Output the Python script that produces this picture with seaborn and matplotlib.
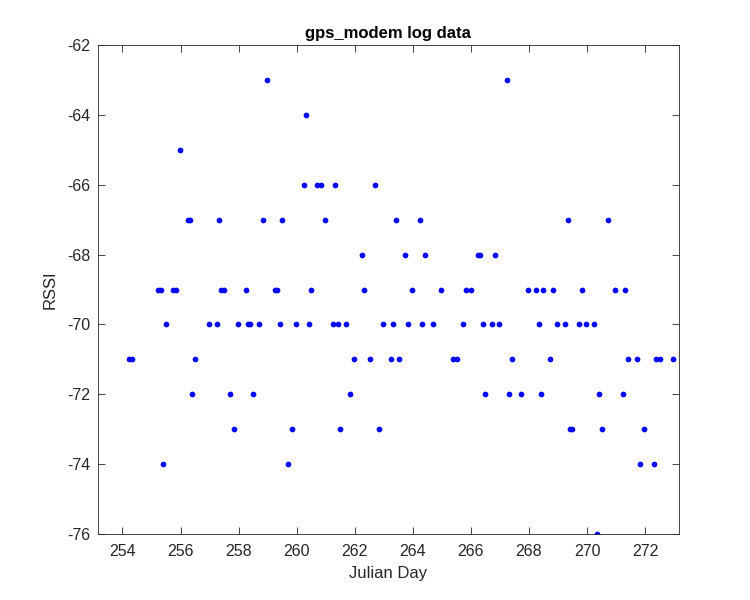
import pandas as pd
import matplotlib
matplotlib.use("Agg")
import matplotlib.pyplot as plt
import seaborn as sns

# values, grouped by RSSI level
days_63 = [258.98, 267.24]
days_64 = [260.33]
days_65 = [255.99]
days_66 = [260.25, 260.70, 260.84, 261.33, 262.71]
days_67 = [256.24, 256.33, 257.33, 258.84, 259.51, 260.98, 263.43, 264.24, 269.33, 270.71]
days_68 = [262.24, 263.72, 264.43, 266.24, 266.33, 266.84]
days_69 = [255.24, 255.33, 255.73, 255.84, 257.40, 257.50, 258.25, 259.24, 259.32,
           260.50, 262.33, 263.98, 264.98, 265.84, 265.99, 267.98, 268.24, 268.50,
           268.84, 269.84, 270.98, 271.32]
days_70 = [255.50, 256.98, 257.25, 257.98, 258.31, 258.40, 258.71, 259.41, 259.96,
           260.41, 261.24, 261.41, 261.71, 262.98, 263.33, 263.84, 264.32, 264.71,
           265.72, 266.41, 266.72, 266.98, 268.33, 268.98, 269.24, 269.71, 269.98, 270.24]
days_71 = [254.22, 254.34, 256.50, 261.98, 262.51, 263.25, 263.51, 265.40, 265.51,
           267.41, 268.71, 271.41, 271.71, 272.39, 272.51, 272.97]
days_72 = [256.41, 257.71, 258.50, 261.84, 266.50, 267.33, 267.71, 268.41, 270.41, 271.24]
days_73 = [257.84, 259.84, 261.50, 262.84, 269.40, 269.50, 270.51, 271.98]
days_74 = [255.41, 259.71, 271.84, 272.32]
days_76 = [270.33]

groups = {-63: days_63, -64: days_64, -65: days_65, -66: days_66, -67: days_67,
          -68: days_68, -69: days_69, -70: days_70, -71: days_71, -72: days_72,
          -73: days_73, -74: days_74, -76: days_76}

rows = []
for rssi, days in groups.items():
    for d in days:
        rows.append((d, rssi))
df = pd.DataFrame(rows, columns=["day", "rssi"]).sort_values("day")

sns.set_style("white")
plt.rcParams["font.family"] = ["Liberation Sans", "DejaVu Sans"]
plt.rcParams["axes.unicode_minus"] = False

fig = plt.figure(figsize=(7.5, 6), dpi=100)
ax = fig.add_axes([0.13, 0.11, 0.775, 0.815])
sns.scatterplot(data=df, x="day", y="rssi", color="#0000ff", s=17, linewidth=0, ax=ax)

ax.set_xlim(253.14, 273.16)
ax.set_ylim(-76, -62)
ax.set_xticks(range(254, 273, 2))
ax.set_yticks(range(-76, -61, 2))
ax.set_xlabel("Julian Day", fontsize=12, color="#262626", labelpad=5)
ax.set_ylabel("RSSI", fontsize=12, color="#262626", labelpad=7)
ax.set_title("gps_modem log data", fontsize=12, fontweight="bold", color="black", pad=5)
ax.tick_params(direction="in", length=5, width=0.6, colors="#262626", labelsize=11.5,
               top=True, right=True, bottom=True, left=True)
ax.tick_params(axis="x", pad=7)
ax.tick_params(axis="y", pad=5)
for sp in ax.spines.values():
    sp.set_color("#262626")
    sp.set_linewidth(0.6)

fig.savefig("out.png", dpi=100)
